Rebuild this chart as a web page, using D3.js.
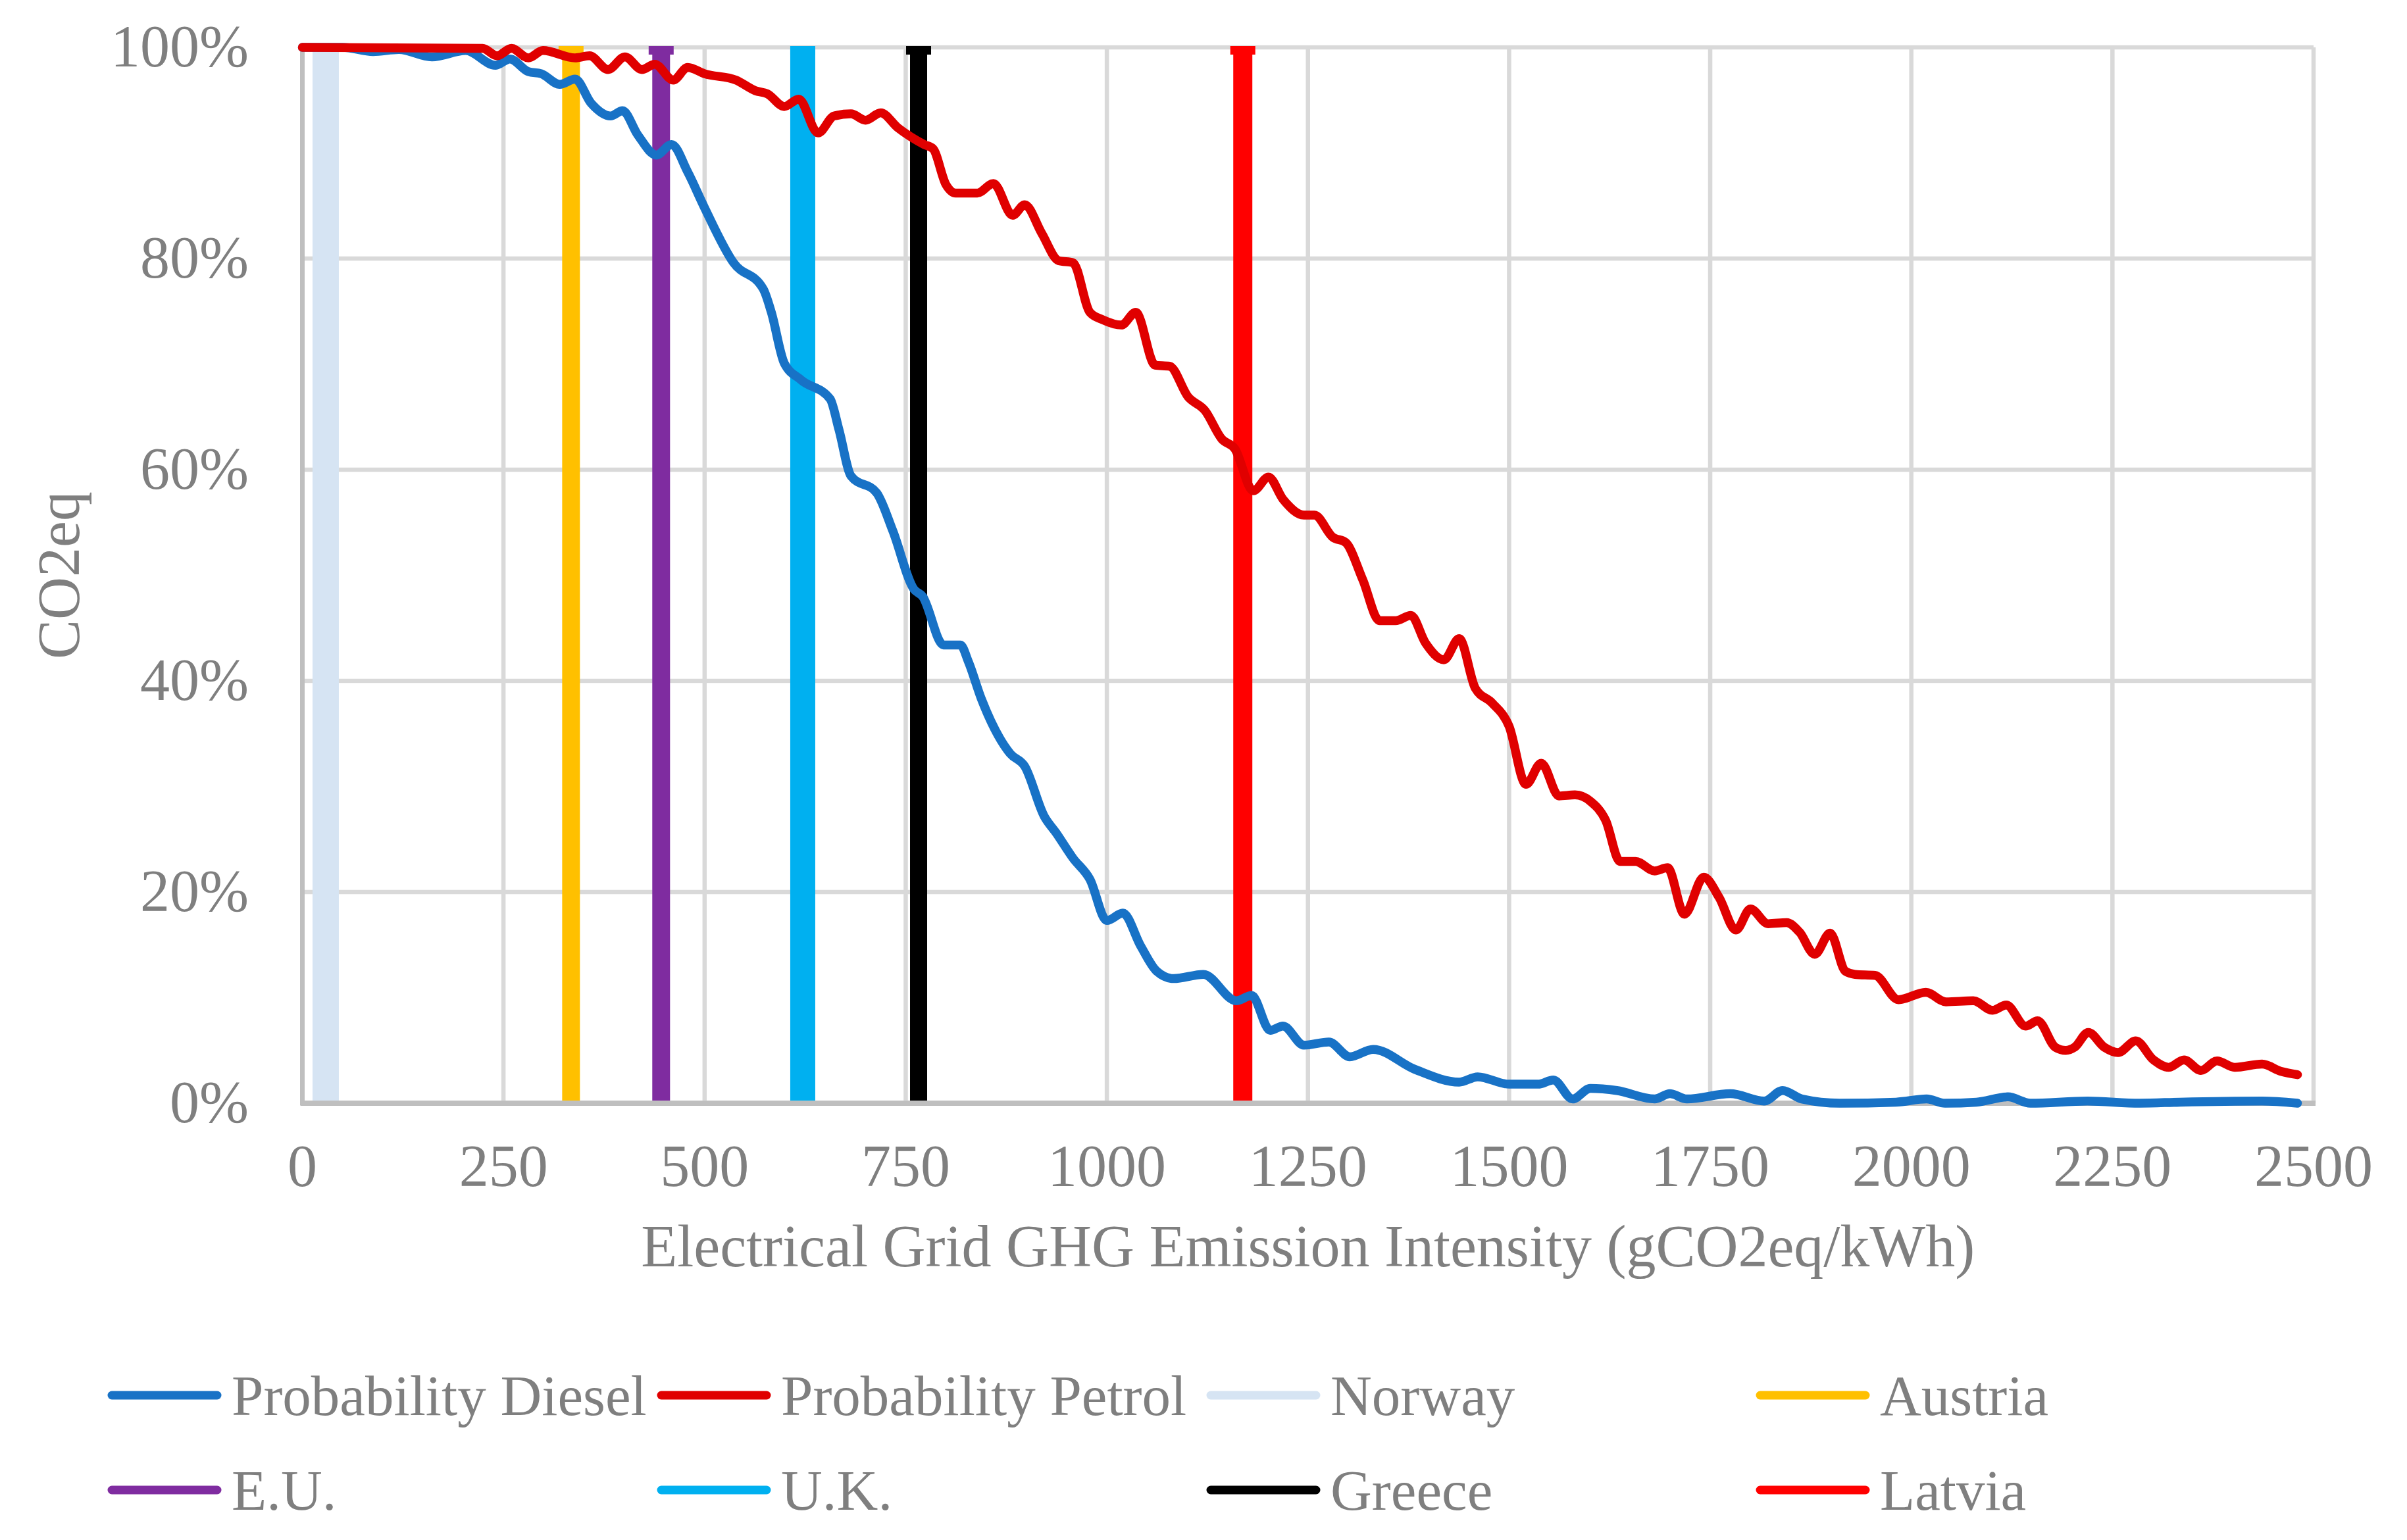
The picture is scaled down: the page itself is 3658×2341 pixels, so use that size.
<!DOCTYPE html>
<html>
<head>
<meta charset="utf-8">
<script src="https://cdn.jsdelivr.net/npm/d3@7"></script>
<style>
  html, body { margin: 0; padding: 0; background: #fff; }
  svg text { font-family: "Liberation Serif", "Times New Roman", serif; fill: #7f7f7f; }
</style>
</head>
<body>
<svg id="chart" width="3658" height="2341"></svg>
<script>
// x = grid intensity (gCO2eq/kWh), y = probability (%)
const dieselPts = [
  [0, 100], [50, 100], [88, 99.6], [120, 99.8], [161, 99.1], [203, 99.7], [240, 98.3],
  [258, 98.9], [281, 97.7], [297, 97.5], [320, 96.5], [339, 97.0], [359, 94.7], [383, 93.5],
  [398, 94.0], [417, 91.7], [440, 89.8], [459, 90.8], [479, 88.2], [500, 84.8], [536, 79.6],
  [573, 77.1], [583, 74.9], [599, 70.1], [620, 68.5], [656, 66.7], [667, 63.8], [682, 59.4],
  [714, 57.8], [734, 54.2], [760, 48.7], [771, 48.0], [797, 43.4], [818, 43.4], [828, 41.8],
  [844, 38.3], [880, 33.1], [898, 31.9], [922, 27.2], [937, 25.6], [958, 23.2], [979, 21.2],
  [1000, 17.3], [1020, 18.0], [1042, 14.9], [1062, 12.5], [1083, 11.8], [1120, 12.2],
  [1161, 9.7], [1180, 10.2], [1203, 6.9], [1219, 7.3], [1245, 5.5], [1276, 5.8], [1302, 4.4],
  [1331, 5.1], [1383, 3.2], [1438, 2.0], [1461, 2.5], [1500, 1.8], [1536, 1.8], [1555, 2.2],
  [1579, 0.4], [1601, 1.4], [1634, 1.2], [1681, 0.4], [1700, 0.9], [1721, 0.4], [1775, 0.9],
  [1817, 0.2], [1840, 1.2], [1864, 0.4], [1911, 0.0], [1981, 0.1], [2019, 0.4], [2042, 0.0],
  [2081, 0.1], [2120, 0.6], [2148, 0.0], [2219, 0.2], [2284, 0.0], [2334, 0.1], [2436, 0.2],
  [2480, 0.0]
];

const petrolPts = [
  [0, 100], [224, 99.9], [242, 99.2], [260, 99.9], [281, 99.0], [299, 99.7], [339, 99.0],
  [357, 99.2], [380, 97.9], [401, 99.1], [422, 97.9], [438, 98.4], [461, 96.9], [479, 98.1],
  [500, 97.5], [539, 96.9], [563, 95.9], [578, 95.6], [599, 94.4], [617, 95.1], [641, 91.9],
  [661, 93.5], [682, 93.7], [700, 93.1], [719, 93.8], [740, 92.4], [773, 90.8], [784, 90.4],
  [800, 87.0], [812, 86.2], [839, 86.2], [859, 87.1], [883, 84.1], [898, 85.1], [919, 82.4],
  [940, 79.8], [958, 79.6], [979, 74.9], [995, 74.2], [1018, 73.7], [1036, 74.9], [1060, 69.9],
  [1078, 69.8], [1101, 66.9], [1122, 65.6], [1143, 62.9], [1159, 62.0], [1182, 58.0],
  [1201, 59.3], [1219, 57.2], [1245, 55.7], [1258, 55.7], [1281, 53.6], [1297, 53.1],
  [1318, 49.6], [1339, 45.7], [1359, 45.7], [1378, 46.2], [1396, 43.6], [1419, 42.0],
  [1438, 44.0], [1458, 39.3], [1479, 37.9], [1500, 35.7], [1521, 30.2], [1540, 32.2],
  [1562, 29.1], [1582, 29.2], [1601, 28.6], [1620, 26.8], [1638, 22.9], [1657, 22.9],
  [1681, 22.0], [1697, 22.3], [1718, 17.9], [1742, 21.4], [1761, 19.5], [1782, 16.4],
  [1800, 18.4], [1822, 17.0], [1845, 17.1], [1861, 16.2], [1880, 14.1], [1899, 16.1],
  [1918, 12.5], [1930, 12.2], [1955, 12.1], [1984, 9.8], [2018, 10.5], [2043, 9.6],
  [2077, 9.7], [2101, 8.8], [2118, 9.3], [2142, 7.3], [2157, 7.8], [2179, 5.3], [2192, 5.0],
  [2203, 5.3], [2220, 6.7], [2240, 5.3], [2257, 4.8], [2279, 5.9], [2301, 4.1], [2320, 3.4],
  [2339, 4.1], [2360, 3.1], [2380, 4.0], [2402, 3.4], [2436, 3.7], [2460, 3.0], [2480, 2.7]
];

// country grid intensities shown as vertical markers
const countries = ["Norway", "Austria", "E.U.", "U.K.", "Greece", "Latvia"];
const countryValues = [29, 334, 446, 622, 766, 1169];
const countryColors = ["#d6e4f3", "#ffc000", "#7f2ca0", "#00b0f0", "#000000", "#ff0000"];
const countryWidths = [40, 27, 27, 38, 26, 29];

const xTicks = [0, 250, 500, 750, 1000, 1250, 1500, 1750, 2000, 2250, 2500];
const yTicks = [0, 20, 40, 60, 80, 100];

const legendNames = ["Probability Diesel", "Probability Petrol", "Norway", "Austria",
                     "E.U.", "U.K.", "Greece", "Latvia"];
const legendColors = ["#1872c6", "#e00000", "#d6e4f3", "#ffc000",
                      "#7f2ca0", "#00b0f0", "#000000", "#ff0000"];

const FONT = 90;
const LEGEND_FONT = 87;
const margin = { left: 459.5, right: 3516, top: 72, bottom: 1677 };

const svg = d3.select("#chart");

const x = d3.scaleLinear().domain([0, 2500]).range([margin.left, margin.right]);
const y = d3.scaleLinear().domain([0, 100]).range([margin.bottom, margin.top]);

// gridlines
const grid = svg.append("g");
grid.selectAll(".vgrid")
  .data(xTicks.slice(1))
  .enter()
  .append("line")
  .attr("x1", d => x(d)).attr("x2", d => x(d))
  .attr("y1", y(0)).attr("y2", y(100))
  .style("stroke", "#d9d9d9")
  .style("stroke-width", 6.5);

grid.selectAll(".hgrid")
  .data(yTicks.slice(1))
  .enter()
  .append("line")
  .attr("x1", x(0)).attr("x2", x(2500))
  .attr("y1", d => y(d)).attr("y2", d => y(d))
  .style("stroke", "#d9d9d9")
  .style("stroke-width", 6.5);

// axis lines
svg.append("line")
  .attr("x1", x(0)).attr("x2", x(0))
  .attr("y1", y(0) + 3).attr("y2", y(100) - 3)
  .style("stroke", "#bfbfbf").style("stroke-width", 7);
svg.append("line")
  .attr("x1", x(0) - 3).attr("x2", x(2500) + 3)
  .attr("y1", y(0)).attr("y2", y(0))
  .style("stroke", "#bfbfbf").style("stroke-width", 8);

// vertical country lines with a cap on top
const vlines = svg.append("g");
countries.forEach((c, i) => {
  const cx = x(countryValues[i]);
  vlines.append("line")
    .attr("x1", cx).attr("x2", cx)
    .attr("y1", y(0) - 4).attr("y2", y(100))
    .style("stroke", countryColors[i])
    .style("stroke-width", countryWidths[i]);
  vlines.append("rect")
    .attr("x", cx - 19).attr("y", y(100) - 2)
    .attr("width", 38).attr("height", 13)
    .style("fill", countryColors[i]);
});

// probability curves
const line = d3.line()
  .x(d => x(d[0]))
  .y(d => y(d[1]))
  .curve(d3.curveMonotoneX);

svg.append("path")
  .datum(dieselPts)
  .attr("d", line)
  .style("fill", "none")
  .style("stroke", legendColors[0])
  .style("stroke-width", 13.5)
  .style("stroke-linejoin", "round")
  .style("stroke-linecap", "round");

svg.append("path")
  .datum(petrolPts)
  .attr("d", line)
  .style("fill", "none")
  .style("stroke", legendColors[1])
  .style("stroke-width", 13.5)
  .style("stroke-linejoin", "round")
  .style("stroke-linecap", "round");

// tick labels
svg.append("g")
  .selectAll("text")
  .data(yTicks)
  .enter()
  .append("text")
  .attr("x", 378)
  .attr("y", d => y(d) + 29)
  .attr("text-anchor", "end")
  .style("font-size", FONT + "px")
  .text(d => d + "%");

svg.append("g")
  .selectAll("text")
  .data(xTicks)
  .enter()
  .append("text")
  .attr("x", d => x(d))
  .attr("y", 1803)
  .attr("text-anchor", "middle")
  .style("font-size", FONT + "px")
  .text(d => d);

// axis titles
svg.append("text")
  .attr("x", (margin.left + margin.right) / 2)
  .attr("y", 1925)
  .attr("text-anchor", "middle")
  .style("font-size", FONT + "px")
  .text("Electrical Grid GHG Emission Intensity (gCO2eq/kWh)");

svg.append("text")
  .attr("transform", "translate(120," + (margin.top + margin.bottom) / 2 + ") rotate(-90)")
  .attr("text-anchor", "middle")
  .style("font-size", FONT + "px")
  .text("CO2eq");

// legend: 4 columns, 2 rows
const legend = svg.append("g");
legendNames.forEach((name, i) => {
  const lx = 164 + (i % 4) * 835;
  const ly = i < 4 ? 2121 : 2265;
  legend.append("line")
    .attr("x1", lx + 6).attr("x2", lx + 166)
    .attr("y1", ly).attr("y2", ly)
    .style("stroke", legendColors[i])
    .style("stroke-width", 13)
    .style("stroke-linecap", "round");
  legend.append("text")
    .attr("x", lx + 188)
    .attr("y", ly + 30)
    .style("font-size", LEGEND_FONT + "px")
    .text(name);
});
</script>
</body>
</html>
